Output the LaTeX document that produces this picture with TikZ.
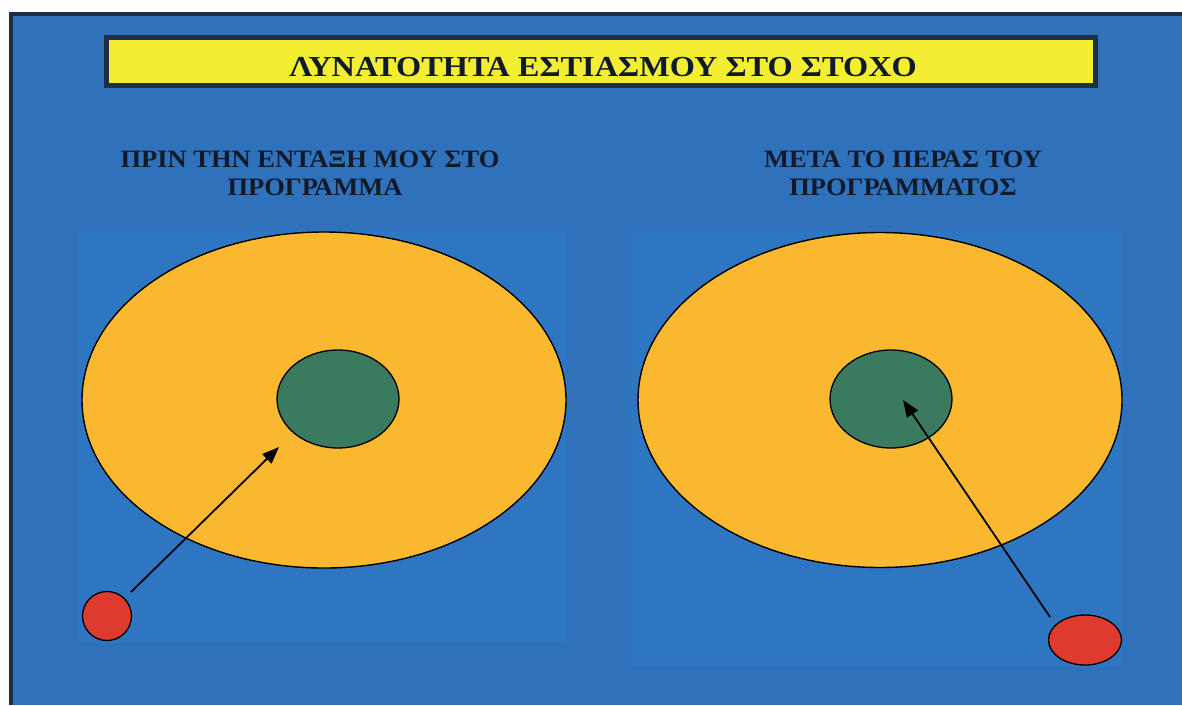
\documentclass[tikz,border=0pt]{standalone}
\usepackage{fontspec}
\setmainfont{Liberation Serif}
\usetikzlibrary{shapes.geometric,arrows.meta}
\definecolor{bgblue}{HTML}{2F72BB}
\definecolor{zoneblue}{HTML}{2F76C2}
\definecolor{frame}{HTML}{1E2E45}
\definecolor{titleyellow}{HTML}{F4EE32}
\definecolor{outerorange}{HTML}{FAB830}
\definecolor{innergreen}{HTML}{3A7A5E}
\definecolor{dotred}{HTML}{DE3A2E}
\definecolor{inktext}{HTML}{111A2A}
\tikzset{
  outerell/.style={ellipse,draw=black,line width=1.4pt,fill=outerorange,inner sep=0pt},
  innerell/.style={ellipse,draw=black,line width=1.3pt,fill=innergreen,inner sep=0pt},
  dotell/.style={ellipse,draw=black,line width=1.3pt,fill=dotred,inner sep=0pt},
  subhead/.style={font=\bfseries\fontsize{25}{28}\selectfont,text=inktext,inner sep=0pt,anchor=base,xscale=1.06},
  arr/.style={draw=black,line width=1.8pt,-{Triangle[length=17pt,width=13pt]}}
}
\begin{document}
\begin{tikzpicture}[x=1pt,y=-1pt]
\useasboundingbox (0,0) rectangle (1182,705);
\fill[white] (0,0) rectangle (1182,705);
% background panel with dark frame
\fill[frame] (9,12) rectangle (1182,705);
\fill[bgblue] (13,16) rectangle (1182,705);
% slightly lighter zones behind the diagrams
\fill[zoneblue] (79,230) rectangle (567,643);
\fill[zoneblue] (632,230) rectangle (1122,667);
% title
\node[draw=frame,line width=4.5pt,fill=titleyellow,minimum width=989pt,minimum height=48pt,inner sep=0pt] (title) at (601,61.5) {};
\node[font=\bfseries\fontsize{29}{32}\selectfont,text=inktext,inner sep=0pt,anchor=base,xscale=1.115] (titletext) at (603,76) {ΛΥΝΑΤΟΤΗΤΑ ΕΣΤΙΑΣΜΟΥ ΣΤΟ ΣΤΟΧΟ};
% subtitles
\node[subhead] (subL1) at (310,167) {ΠΡΙΝ ΤΗΝ ΕΝΤΑΞΗ ΜΟΥ ΣΤΟ};
\node[subhead] (subL2) at (315,195) {ΠΡΟΓΡΑΜΜΑ};
\node[subhead] (subR1) at (903,167) {ΜΕΤΑ ΤΟ ΠΕΡΑΣ ΤΟΥ};
\node[subhead] (subR2) at (903,195) {ΠΡΟΓΡΑΜΜΑΤΟΣ};
% left diagram
\node[outerell,minimum width=484pt,minimum height=336pt] (outL) at (324,400) {};
\node[innerell,minimum width=122pt,minimum height=98pt] (inL) at (338,399) {};
\node[dotell,minimum width=49pt,minimum height=49pt] (dotL) at (107,616) {};
% right diagram
\node[outerell,minimum width=484pt,minimum height=335pt] (outR) at (880,400) {};
\node[innerell,minimum width=122pt,minimum height=98pt] (inR) at (891,399) {};
\node[dotell,minimum width=73pt,minimum height=50pt] (dotR) at (1085,640) {};
% arrow ends
\coordinate (startL) at (131,592);
\coordinate (tipL) at (279,447);
\coordinate (startR) at (1050,617);
\coordinate (tipR) at (903,400);
\draw[arr] (startL) -- (tipL);
\draw[arr] (startR) -- (tipR);
\end{tikzpicture}
\end{document}
